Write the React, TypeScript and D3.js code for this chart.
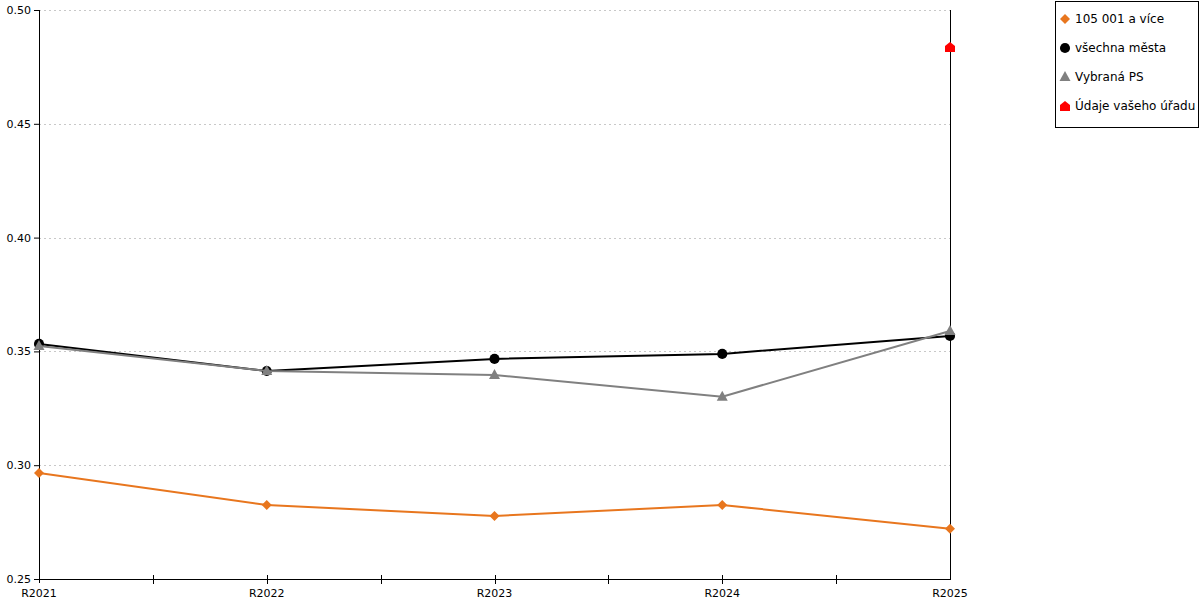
import { useEffect, useRef } from 'react';
import * as d3 from 'd3';

const categories = ['R2021', 'R2022', 'R2023', 'R2024', 'R2025'];

const seriesNames = ['105 001 a více', 'všechna města', 'Vybraná PS', 'Údaje vašeho úřadu'];

const bigCities = [0.2966, 0.2825, 0.2777, 0.2825, 0.2721];
const allCities = [0.3533, 0.3414, 0.3467, 0.3489, 0.3568];
const selectedPs = [0.3524, 0.3414, 0.3396, 0.3301, 0.359];
const yourOffice: (number | null)[] = [null, null, null, null, 0.4837];

const yTicks = [0.25, 0.3, 0.35, 0.4, 0.45, 0.5];

type Shape = 'diamond' | 'circle' | 'triangle' | 'house';

const series: { name: string; values: (number | null)[]; color: string; shape: Shape }[] = [
  { name: seriesNames[0], values: bigCities, color: '#E8761E', shape: 'diamond' },
  { name: seriesNames[1], values: allCities, color: '#000000', shape: 'circle' },
  { name: seriesNames[2], values: selectedPs, color: '#808080', shape: 'triangle' },
  { name: seriesNames[3], values: yourOffice, color: '#FF0000', shape: 'house' },
];

function markerPath(shape: Shape): string {
  switch (shape) {
    case 'diamond':
      return 'M0,-5L5,0L0,5L-5,0Z';
    case 'circle':
      return d3.symbol(d3.symbolCircle, 80)()!;
    case 'triangle':
      return 'M0,-6L5.5,4L-5.5,4Z';
    case 'house':
      return 'M0,-5L5,-1L5,5L-5,5L-5,-1Z';
  }
}

export default function App() {
  const ref = useRef<SVGSVGElement | null>(null);

  useEffect(() => {
    if (!ref.current) return;
    const svg = d3.select(ref.current);
    svg.selectAll('*').remove();

    const width = 1200;
    const height = 600;
    const margin = { top: 10, right: 250, bottom: 21, left: 39 };
    const innerWidth = width - margin.left - margin.right;
    const innerHeight = height - margin.top - margin.bottom;

    const x = d3.scalePoint<string>().domain(categories).range([0, innerWidth]);
    const y = d3.scaleLinear().domain([0.25, 0.5]).range([innerHeight, 0]);

    const g = svg.append('g').attr('transform', `translate(${margin.left},${margin.top})`);

    // dotted grid
    g.append('g')
      .selectAll('line')
      .data(yTicks.filter(t => t > 0.25))
      .enter()
      .append('line')
      .attr('x1', 0)
      .attr('x2', innerWidth)
      .attr('y1', d => Math.round(y(d)) + 0.5)
      .attr('y2', d => Math.round(y(d)) + 0.5)
      .attr('stroke', '#c8c8c8')
      .attr('stroke-dasharray', '2,3');

    // y axis
    const yAxis = g.append('g')
      .call(d3.axisLeft(y).tickValues(yTicks).tickFormat(d3.format('.2f')).tickSize(5).tickPadding(3));
    yAxis.select('.domain').attr('stroke', '#000').attr('d', `M0.5,0V${innerHeight + 4}`);
    yAxis.selectAll('text').attr('font-family', 'DejaVu Sans').attr('font-size', 11).attr('fill', '#000');

    // x axis
    const step = x.step();
    const tickPos = d3.range(0, categories.length * 2 - 1).map(i => (i * step) / 2);
    const xAxis = g.append('g').attr('transform', `translate(0,${innerHeight})`);
    xAxis.append('line')
      .attr('x1', 0).attr('x2', innerWidth)
      .attr('y1', 0.5).attr('y2', 0.5)
      .attr('stroke', '#000');
    xAxis.selectAll('line.tick')
      .data(tickPos.slice(1, -1))
      .enter()
      .append('line')
      .attr('class', 'tick')
      .attr('x1', d => Math.round(d) + 0.5)
      .attr('x2', d => Math.round(d) + 0.5)
      .attr('y1', -4)
      .attr('y2', 5)
      .attr('stroke', '#000');
    xAxis.selectAll('text')
      .data(categories)
      .enter()
      .append('text')
      .attr('x', d => x(d)!)
      .attr('y', 18)
      .attr('text-anchor', 'middle')
      .attr('font-family', 'DejaVu Sans')
      .attr('font-size', 11)
      .text(d => d);

    // right vertical line
    g.append('line')
      .attr('x1', innerWidth + 0.5).attr('x2', innerWidth + 0.5)
      .attr('y1', 0).attr('y2', innerHeight + 1)
      .attr('stroke', '#000');

    // series
    series.forEach(s => {
      const pts = s.values
        .map((v, i) => ({ cat: categories[i], v }))
        .filter(p => p.v !== null) as { cat: string; v: number }[];
      const line = d3.line<{ cat: string; v: number }>()
        .x(d => x(d.cat)!)
        .y(d => y(d.v));
      if (pts.length > 1) {
        g.append('path')
          .datum(pts)
          .attr('d', line)
          .attr('fill', 'none')
          .attr('stroke', s.color)
          .attr('stroke-width', 2);
      }
      g.selectAll(null)
        .data(pts)
        .enter()
        .append('path')
        .attr('d', markerPath(s.shape))
        .attr('transform', d => `translate(${x(d.cat)},${y(d.v)})`)
        .attr('fill', s.color);
    });

    // legend
    const legend = svg.append('g').attr('transform', 'translate(1055,1)');
    legend.append('rect')
      .attr('x', 0.5).attr('y', 0.5)
      .attr('width', 143).attr('height', 126)
      .attr('fill', '#fff')
      .attr('stroke', '#000');
    series.forEach((s, i) => {
      const row = legend.append('g').attr('transform', `translate(0,${18 + i * 29})`);
      row.append('path')
        .attr('d', markerPath(s.shape))
        .attr('transform', 'translate(10,0)')
        .attr('fill', s.color);
      row.append('text')
        .attr('x', 20)
        .attr('y', 4)
        .attr('font-family', 'DejaVu Sans')
        .attr('font-size', 12)
        .text(s.name);
    });
  }, []);

  return (
    <svg ref={ref} width={1200} height={600} style={{ position: 'absolute', left: 0, top: 0 }}></svg>
  );
}
